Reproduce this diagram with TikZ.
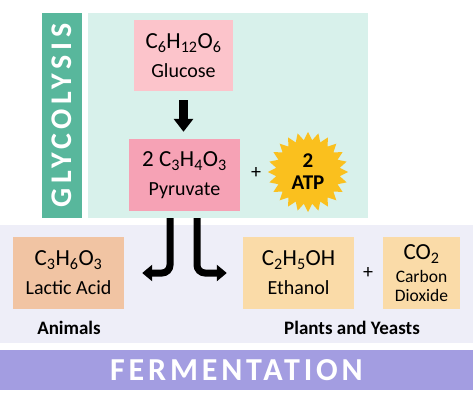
\documentclass[tikz,border=0pt]{standalone}
\usepackage{fontspec}
\setmainfont{Carlito}
\newfontfamily\spacedfont[LetterSpace=12]{Carlito}
\newfontfamily\widefont[LetterSpace=16]{Carlito}
\usetikzlibrary{arrows.meta,shapes.geometric}
\definecolor{glycoteal}{RGB}{88,183,156}
\definecolor{glycopale}{RGB}{216,241,235}
\definecolor{fermpale}{RGB}{238,238,248}
\definecolor{fermpurple}{RGB}{163,157,225}
\definecolor{glucosepink}{RGB}{252,196,203}
\definecolor{pyruvatepink}{RGB}{246,162,181}
\definecolor{lacticpeach}{RGB}{241,196,163}
\definecolor{ethanolsand}{RGB}{250,219,168}
\definecolor{atpgold}{RGB}{250,192,30}

\begin{document}
\begin{tikzpicture}[x=1pt,y=-1pt,
		panel/.style={inner sep=0pt},
		compound/.style={inner sep=0pt,align=center,minimum height=72pt,minimum width=111pt,font=\fontsize{20}{29}\selectfont},
		bigarrow/.style={line width=9pt,-{Triangle[width=19pt,length=13pt]}},
		splitarrow/.style={line width=7pt,rounded corners=8pt,-{Triangle[width=16pt,length=10pt]}},
		plus/.style={inner sep=0pt,font=\fontsize{20}{20}\selectfont},
		group/.style={inner sep=0pt,font=\bfseries\fontsize{19}{19}\selectfont}]
		\useasboundingbox (0,0) rectangle (474,412);
		% panels and titles
		\node[panel,fill=glycopale,minimum width=280pt,minimum height=205pt] (glycopanel) at (228,115.5) {};
		\node[panel,fill=glycoteal,minimum width=205pt,minimum height=40pt,rotate=90,text=white,font=\widefont\bfseries\fontsize{30}{30}\selectfont] (glycolabel) at (62,115.5) {GLYCOLYSIS};
		\node[panel,fill=fermpale,minimum width=473pt,minimum height=118pt] (fermpanel) at (236.5,284) {};
		\node[panel,fill=fermpurple,minimum width=473pt,minimum height=40pt,text=white,font=\spacedfont\bfseries\fontsize{32}{32}\selectfont] (fermlabel) at (236.5,370) {FERMENTATION};
		% compounds
		\node[compound,fill=glucosepink,minimum width=99pt,minimum height=71pt] (glucose) at (183.5,55.5) {{\fontsize{23}{29}\selectfont C\textsubscript{6}H\textsubscript{12}O\textsubscript{6}}\\Glucose};
		\node[compound,fill=pyruvatepink] (pyruvate) at (184.5,175) {{\fontsize{23}{29}\selectfont 2 C\textsubscript{3}H\textsubscript{4}O\textsubscript{3}}\\Pyruvate};
		\node[plus] (plusatp) at (256,173) {+};
		\node[star,star points=24,star point ratio=1.25,fill=atpgold,minimum size=80pt,inner sep=0pt,align=center,font=\bfseries\fontsize{21}{22}\selectfont] (atp) at (308,172) {2\\ATP};
		\node[compound,fill=lacticpeach] (lactic) at (68.5,273) {{\fontsize{23}{29}\selectfont C\textsubscript{3}H\textsubscript{6}O\textsubscript{3}}\\Lactic Acid};
		\node[compound,fill=ethanolsand] (ethanol) at (298.5,273) {{\fontsize{23}{29}\selectfont C\textsubscript{2}H\textsubscript{5}OH}\\Ethanol};
		\node[plus] (plusco) at (368,273) {+};
		\node[compound,fill=ethanolsand,minimum width=77pt,font=\fontsize{17.5}{19}\selectfont] (carbon) at (421.5,273) {{\fontsize{23}{19}\selectfont CO\textsubscript{2}}\\[4pt]Carbon\\Dioxide};
		\node[group] (animals) at (69,328) {Animals};
		\node[group] (plants) at (352,328) {Plants and Yeasts};
		% arrows
		\draw[bigarrow,shorten <=9pt,shorten >=7pt] (glucose.south) -- (glucose.south |- pyruvate.north);
		\draw[splitarrow,shorten <=7pt,shorten >=18pt] ([xshift=-14.5pt]pyruvate.south) |- (lactic.east);
		\draw[splitarrow,shorten <=7pt,shorten >=16pt] ([xshift=12.5pt]pyruvate.south) |- (ethanol.west);
\end{tikzpicture}
\end{document}
